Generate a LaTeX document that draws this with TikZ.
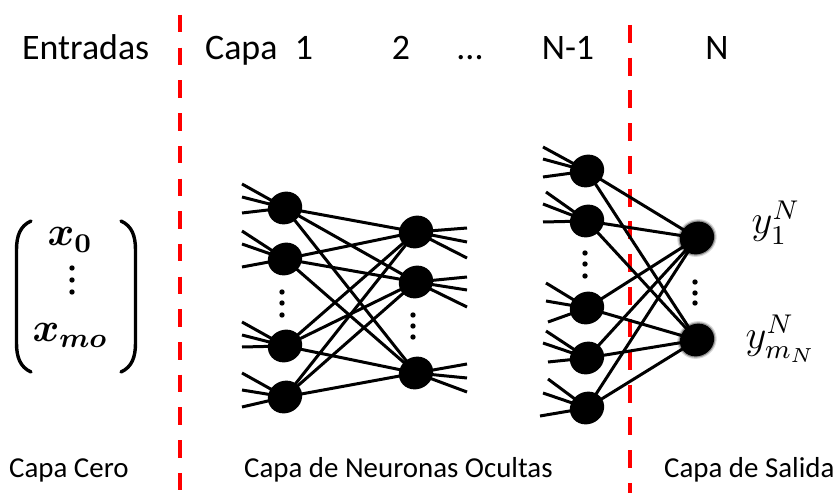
\documentclass[tikz,border=0pt]{standalone}
\usepackage{amsmath}
\usepackage{fontspec}
\setmainfont{Carlito}
\usetikzlibrary{shapes.geometric}

\newcommand\headsize{\fontsize{36}{40}\selectfont}
\newcommand\footsize{\fontsize{29}{33}\selectfont}
\newcommand\symsize{\fontsize{12}{14}\selectfont}

\tikzset{
  neuron/.style={ellipse, fill=black, inner sep=0pt,
    minimum width=35bp, minimum height=32bp, rotate=30},
  outneuron/.style={neuron,
    preaction={draw=black, line width=5bp, draw opacity=0.15},
    preaction={draw=black, line width=2.5bp, draw opacity=0.3}},
  link/.style={draw=black, line width=3bp},
  divider/.style={draw=red, line width=4.5bp},
  bracket/.style={draw=black, line width=3.4bp, line cap=round},
  head/.style={inner sep=0pt, font=\headsize},
  foot/.style={inner sep=0pt, font=\footsize},
  sym/.style={inner sep=0pt, font=\symsize, scale=3.4},
  dotmark/.style={fill=black},
}

\begin{document}
\begin{tikzpicture}[x=1bp, y=-1bp]
  \fill[white] (0,0) rectangle (839,493);
  \useasboundingbox (0,0) rectangle (839,493);

  % layer separators
  \coordinate (sepA-top) at (180,15);
  \coordinate (sepA-bot) at (180,493);
  \coordinate (sepB-top) at (630,25);
  \coordinate (sepB-bot) at (630,493);
  \draw[divider, dash pattern=on 17.5bp off 15.2bp] (sepA-top) -- (sepA-bot);
  \draw[divider, dash pattern=on 18bp off 14.7bp] (sepB-top) -- (sepB-bot);

  % headings
  \node[head, anchor=base west] (t-entradas) at (22,60) {Entradas};
  \node[head, anchor=base west] (t-capa) at (205,60) {Capa};
  \node[head, anchor=base] (t-one) at (304,60) {1};
  \node[head, anchor=base] (t-two) at (401,60) {2};
  \node[head, anchor=base] (t-dots) at (470,60) {...};
  \node[head, anchor=base] (t-nm1) at (568,60) {N-1};
  \node[head, anchor=base] (t-n) at (717,60) {N};

  % footers
  \node[foot, anchor=base west] (b-cero) at (9,477) {Capa Cero};
  \node[foot, anchor=base west] (b-ocultas) at (244,477) {Capa de Neuronas Ocultas};
  \node[foot, anchor=base west] (b-salida) at (664,477) {Capa de Salida};

  % input vector
  \node[sym, anchor=base west] (x0) at (47,246) {$\boldsymbol{x}_{\boldsymbol{0}}$};
  \node[sym, anchor=base west] (xmo) at (32,341) {$\boldsymbol{x}_{\boldsymbol{mo}}$};
  \coordinate (lb-top) at (31,221);
  \coordinate (lb-bot) at (31,372);
  \coordinate (rb-top) at (121,221);
  \coordinate (rb-bot) at (121,372);
  \draw[bracket] (lb-top) .. controls (20,226) and (16.5,236) .. (16.5,250)
        -- (16.5,343) .. controls (16.5,357) and (20,367) .. (lb-bot);
  \draw[bracket] (rb-top) .. controls (132,226) and (135.5,236) .. (135.5,250)
        -- (135.5,343) .. controls (135.5,357) and (132,367) .. (rb-bot);

  % neurons
  \foreach \nm/\x/\y in {n1/285/208, n2/285/259, n3/285/346, n4/285/397,
                         m1/416/232, m2/416/282, m3/416/373,
                         p1/587/171, p2/587/221, p3/587/308, p4/587/358, p5/587/408}
    \node[neuron] (\nm) at (\x,\y) {};
  \node[outneuron] (o1) at (697,238) {};
  \node[outneuron] (o2) at (697,340) {};

  % output labels
  \node[sym, anchor=base west] (y1) at (751,234) {$y_1^N$};
  \node[sym, anchor=base west] (ym) at (745,348) {$y_{m_N}^N$};

  % free ends of the incoming and outgoing stubs
  \foreach \nm/\x/\y in {
      n1a/242/184, n1b/242/197, n1c/242/213,
      n2a/242/231, n2b/242/244, n2c/242/267,
      n3a/242/322, n3b/242/335, n3c/242/347,
      n4a/242/373, n4b/242/390, n4c/242/407,
      m1a/467/228, m1b/467/242, m1c/467/258,
      m2a/467/277, m2b/467/290, m2c/467/307,
      m3a/467/364, m3b/467/378, m3c/467/392,
      p1a/543/147, p1b/543/159, p1c/543/177,
      p2a/546/192, p2b/543/204, p2c/543/222,
      p3a/546/283, p3b/546/301, p3c/548/322,
      p4a/546/331, p4b/543/343, p4c/548/362,
      p5a/548/379, p5b/543/393, p5c/540/416}
    \coordinate (\nm) at (\x,\y);

  \foreach \s/\t in {
      n1a/n1, n1b/n1, n1c/n1, n2a/n2, n2b/n2, n2c/n2,
      n3a/n3, n3b/n3, n3c/n3, n4a/n4, n4b/n4, n4c/n4,
      m1a/m1, m1b/m1, m1c/m1, m2a/m2, m2b/m2, m2c/m2,
      m3a/m3, m3b/m3, m3c/m3,
      p1a/p1, p1b/p1, p1c/p1, p2a/p2, p2b/p2, p2c/p2,
      p3a/p3, p3b/p3, p3c/p3, p4a/p4, p4b/p4, p4c/p4,
      p5a/p5, p5b/p5, p5c/p5}
    \draw[link] (\s) -- (\t.center);

  % full connections between consecutive layers
  \foreach \s in {n1,n2,n3,n4}
    \foreach \t in {m1,m2,m3}
      \draw[link] (\s.center) -- (\t.center);
  \foreach \s in {p1,p2,p3,p4,p5}
    \foreach \t in {o1,o2}
      \draw[link] (\s.center) -- (\t.center);

  % vertical ellipsis marks
  \foreach \nm/\x/\y in {
      dx1/72/268, dx2/72/280, dx3/72/292,
      dn1/282/292, dn2/282/303, dn3/282/315,
      dm1/413/315, dm2/413/326, dm3/413/337,
      dp1/585/253, dp2/585/264, dp3/585/276,
      do1/695/282, do2/695/293, do3/695/303}
    \fill[dotmark] (\x,\y) circle[radius=2.7bp];
\end{tikzpicture}
\end{document}
